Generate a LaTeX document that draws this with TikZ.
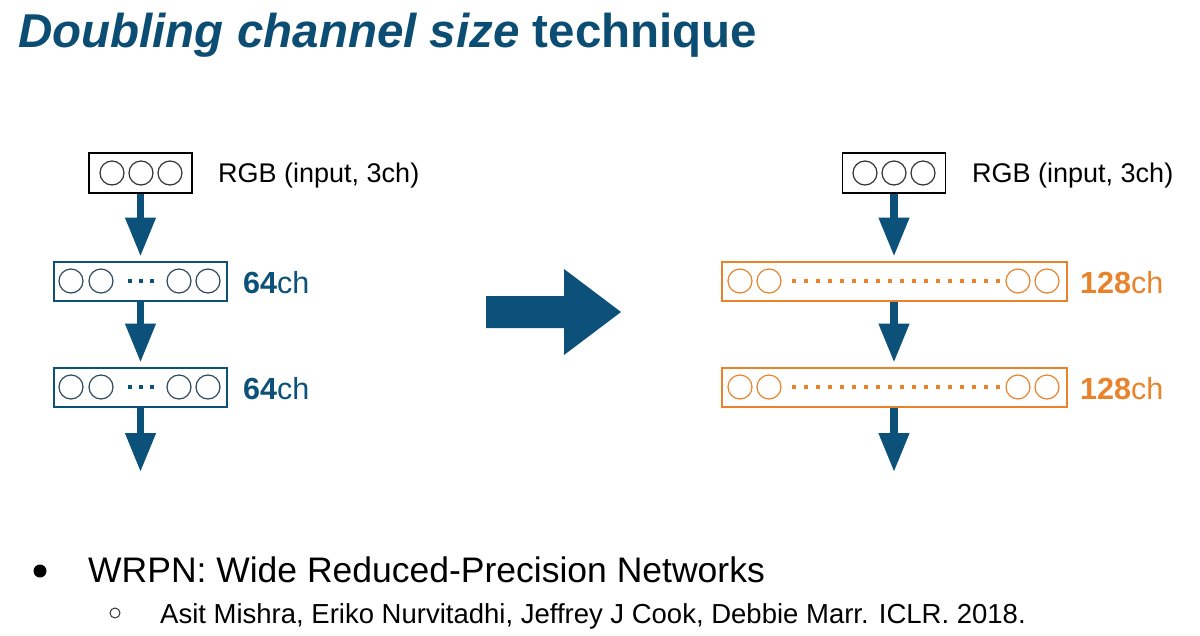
\documentclass[tikz,border=0pt]{standalone}
\usepackage{fontspec}
\setmainfont{Liberation Sans}
\usetikzlibrary{arrows.meta}
\definecolor{navy}{HTML}{0B5179}
\definecolor{ttl}{HTML}{0C4E73}
\definecolor{org}{HTML}{E8832C}
\definecolor{ring}{HTML}{333333}
\definecolor{bring}{HTML}{2E4A5E}
\tikzset{
  rgbbox/.style={draw=black, line width=1.5pt, minimum width=103pt, minimum height=40pt, inner sep=0pt},
  lbox/.style={draw=navy, line width=2pt, minimum width=173pt, minimum height=39pt, inner sep=0pt},
  rbox/.style={draw=org, line width=2pt, minimum width=345pt, minimum height=39pt, inner sep=0pt},
  flow/.style={draw=navy, line width=7.5pt, -{Triangle[width=29pt,length=39pt]}},
  unit/.style={line width=1.2pt},
  lbl/.style={anchor=base west, inner sep=0pt, font=\fontsize{27}{32}\selectfont},
  chl/.style={anchor=base west, inner sep=0pt, font=\fontsize{30.5}{36}\selectfont},
}
\begin{document}
\begin{tikzpicture}[x=1pt,y=-1pt]
\useasboundingbox[fill=white] (0,0) rectangle (1200,635);
% title
\node[anchor=base west, inner sep=0pt, text=ttl, font=\fontsize{47.5}{56}\selectfont\bfseries] (title) at (18,47) {\textit{Doubling channel size} technique};

% ---------------- left column ----------------
\node[rgbbox] (rgbL) at (140.5,173) {};
\foreach \x in {112,141,170} \draw[unit, draw=ring] (\x,173) circle[radius=12pt];
\node[lbl] (rgbLtxt) at (218,182) {RGB (input, 3ch)};

\node[lbox] (l1) at (140.5,281) {};
\node[lbox] (l2) at (140.5,387) {};
\foreach \y in {281,387}{
  \foreach \x in {71,101,179,208} \draw[unit, draw=bring] (\x,\y) circle[radius=12pt];
  \foreach \x in {130,141,152} \fill[navy] (\x-1.8,\y-1.8) rectangle ++(3.6,3.6);
}
\node[chl, text=navy] (l1txt) at (243,293) {\textbf{64}ch};
\node[chl, text=navy] (l2txt) at (243,399) {\textbf{64}ch};
\coordinate (endL) at (140.5,472);
\draw[flow, shorten >=4pt] (rgbL.south) -- (l1.north);
\draw[flow, shorten >=4pt] (l1.south) -- (l2.north);
\draw[flow] (l2.south) -- (endL);

% ---------------- big arrow ----------------
\fill[navy] (486,296) -- (564,296) -- (564,269) -- (621,312) -- (564,355) -- (564,328) -- (486,328) -- cycle;

% ---------------- right column ----------------
\node[rgbbox] (rgbR) at (894,173) {};
\foreach \x in {865,894,923} \draw[unit, draw=ring] (\x,173) circle[radius=12pt];
\node[lbl] (rgbRtxt) at (972,182) {RGB (input, 3ch)};

\node[rbox] (r1) at (894,281) {};
\node[rbox] (r2) at (894,387) {};
\foreach \y in {281,387}{
  \foreach \x in {740,769,1018,1047} \draw[unit, draw=org] (\x,\y) circle[radius=12pt];
  \foreach \x in {0,...,17} \fill[org] (794+12*\x-1.6,\y-1.6) rectangle ++(3.2,3.2);
}
\node[chl, text=org] (r1txt) at (1080,293) {\textbf{128}ch};
\node[chl, text=org] (r2txt) at (1080,399) {\textbf{128}ch};
\coordinate (endR) at (894,472);
\draw[flow, shorten >=4pt] (rgbR.south) -- (r1.north);
\draw[flow, shorten >=4pt] (r1.south) -- (r2.north);
\draw[flow] (r2.south) -- (endR);

% ---------------- bullets ----------------
\fill[black] (40,571) circle[radius=6.5pt];
\node[anchor=base west, inner sep=0pt, font=\fontsize{35.5}{42}\selectfont] (b1) at (88,582) {WRPN: Wide Reduced-Precision Networks};
\draw[line width=1pt, draw=ring] (115,613) circle[radius=5pt];
\node[anchor=base west, inner sep=0pt, font=\fontsize{27.5}{33}\selectfont] (b2) at (160,623) {Asit Mishra, Eriko Nurvitadhi, Jeffrey J Cook, Debbie Marr. ICLR. 2018.};
\end{tikzpicture}
\end{document}
